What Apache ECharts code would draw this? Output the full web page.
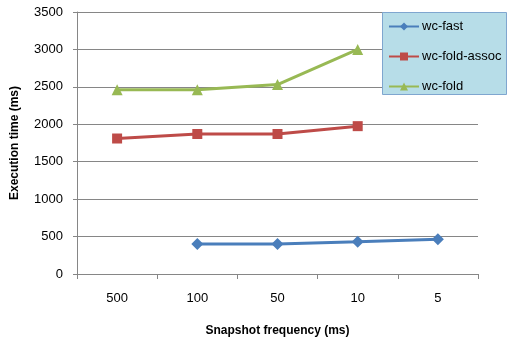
<!DOCTYPE html>
<html><head><meta charset="utf-8">
<script src="https://cdn.jsdelivr.net/npm/echarts@6/dist/echarts.min.js"></script>
<style>html,body{margin:0;padding:0;background:#fff}#c{width:507px;height:342px}</style>
</head><body><div id="c"></div>
<script>
const categories = ['500', '100', '50', '10', '5'];
const wcFast = [null, 400, 400, 430, 465];
const wcFoldAssoc = [1810, 1870, 1870, 1975, null];
const wcFold = [2460, 2460, 2530, 3000, null];
const yTicks = { min: 0, max: 3500, interval: 500 };

const font = 'Liberation Sans';
const chart = echarts.init(document.getElementById('c'), null, { renderer: 'canvas' });
chart.setOption({
  animation: false,
  textStyle: { fontFamily: font },
  grid: { left: 77, right: 29, top: 12, bottom: 64, containLabel: false },
  graphic: [{
    type: 'rect', left: 382, top: 12, z: 10,
    shape: { width: 124, height: 82 },
    style: { fill: '#b7dde8', stroke: '#7fa6cf', lineWidth: 1 }
  }],
  legend: {
    orient: 'vertical', left: 382, top: 12, z: 20,
    padding: [8, 6, 8, 6], itemGap: 17, itemWidth: 30, itemHeight: 10,
    textStyle: { fontFamily: font, fontSize: 13, color: '#000', padding: [0, 0, 0, -2] },
    data: ['wc-fast', 'wc-fold-assoc', 'wc-fold']
  },
  xAxis: {
    type: 'category', data: categories, boundaryGap: true,
    name: 'Snapshot frequency (ms)', nameLocation: 'middle', nameGap: 51,
    nameTextStyle: { fontFamily: font, fontSize: 12, fontWeight: 'bold', color: '#000' },
    axisLine: { lineStyle: { color: '#868686', width: 1 } },
    axisTick: { show: true, length: 5, alignWithLabel: false, lineStyle: { color: '#868686' } },
    axisLabel: { fontFamily: font, fontSize: 13, color: '#000', margin: 18 },
    splitLine: { show: false }
  },
  yAxis: {
    type: 'value', min: yTicks.min, max: yTicks.max, interval: yTicks.interval,
    name: 'Execution time (ms)', nameLocation: 'middle', nameGap: 56, nameRotate: 90,
    nameTextStyle: { fontFamily: font, fontSize: 12, fontWeight: 'bold', color: '#000' },
    axisLine: { show: true, lineStyle: { color: '#868686', width: 1 } },
    axisTick: { show: true, length: 4, lineStyle: { color: '#868686' } },
    axisLabel: { fontFamily: font, fontSize: 13, color: '#000', margin: 14, formatter: v => String(v) },
    splitLine: { show: true, lineStyle: { color: '#868686', width: 1 } }
  },
  series: [
    { name: 'wc-fast', type: 'line', data: wcFast, symbol: 'diamond', symbolSize: 12,
      lineStyle: { color: '#4a7ebb', width: 3 }, itemStyle: { color: '#4a7ebb' }, z: 3 },
    { name: 'wc-fold-assoc', type: 'line', data: wcFoldAssoc, symbol: 'rect', symbolSize: 10,
      lineStyle: { color: '#be4b48', width: 3 }, itemStyle: { color: '#be4b48' }, z: 3 },
    { name: 'wc-fold', type: 'line', data: wcFold, symbol: 'triangle', symbolSize: 11,
      lineStyle: { color: '#98b954', width: 3 }, itemStyle: { color: '#98b954' }, z: 3 }
  ]
});
</script></body></html>
